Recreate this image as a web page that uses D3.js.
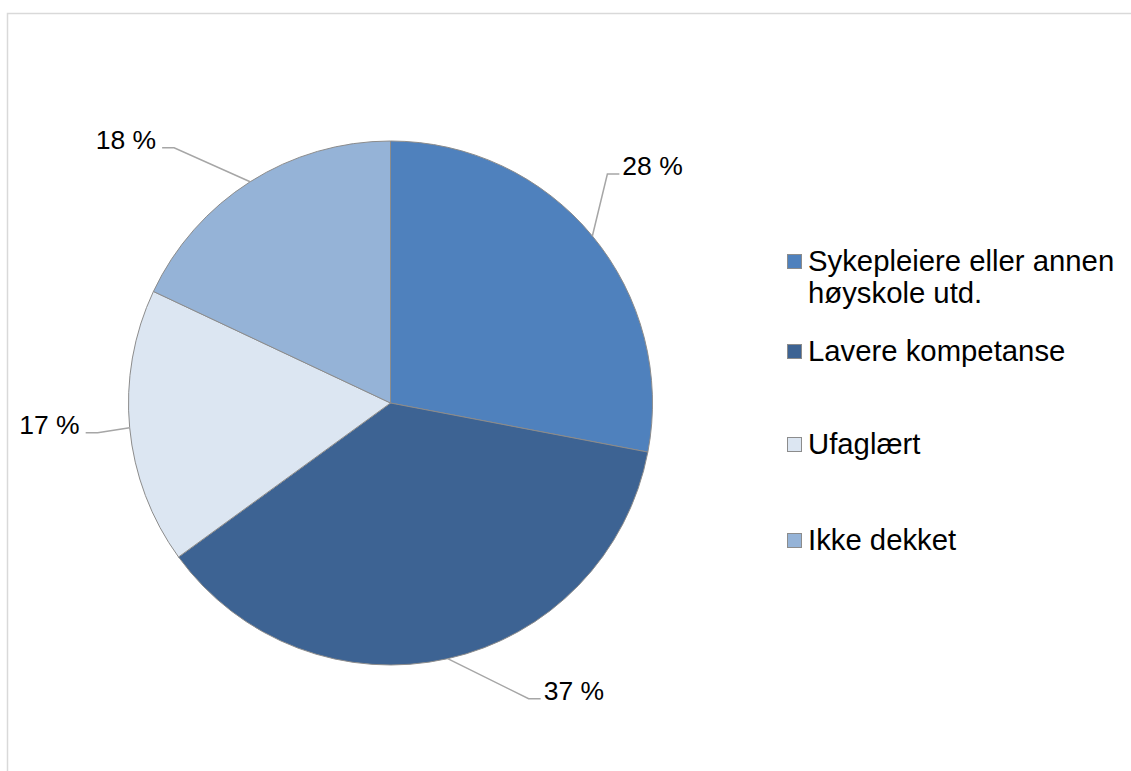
<!DOCTYPE html>
<html>
<head>
<meta charset="utf-8">
<script src="https://cdn.jsdelivr.net/npm/d3@7"></script>
<style>
  html, body { margin: 0; padding: 0; background: #fff; }
  svg { display: block; font-family: "Liberation Sans", Arial, sans-serif; }
</style>
</head>
<body>
<div id="chart"></div>
<script>
// Pie: share of shifts by staff competence.
const categories = [
  "Sykepleiere eller annen høyskole utd.",
  "Lavere kompetanse",
  "Ufaglært",
  "Ikke dekket",
];
const values = [28, 37, 17, 18];
const valueLabels = ["28 %", "37 %", "17 %", "18 %"];
const legendLines = [
  ["Sykepleiere eller annen", "høyskole utd."],
  ["Lavere kompetanse"],
  ["Ufaglært"],
  ["Ikke dekket"],
];
const colors = ["#4f81bd", "#3d6393", "#dce6f2", "#95b3d7"];

// label elbow offsets from the slice edge (layout only)
const leaderOffsets = [
  { dx: 15, dy: -62 },
  { dx: 81, dy: 40 },
  { dx: -32, dy: 5 },
  { dx: -76, dy: -34 },
];
const legendBaselines = [271, 361, 454, 550];

const W = 1131, H = 771;
const cx = 390.5, cy = 403, R = 262;

const svg = d3.select("#chart").append("svg")
  .attr("width", W).attr("height", H)
  .attr("viewBox", `0 0 ${W} ${H}`);

// chart-area border (runs off the right and bottom)
svg.append("rect")
  .attr("x", 7.5).attr("y", 13.5)
  .attr("width", 1200).attr("height", 800)
  .attr("fill", "none")
  .attr("stroke", "#d9d9d9")
  .attr("stroke-width", 1.5);

const rows = categories.map((c, i) => ({ name: c, value: values[i], label: valueLabels[i], i }));

const pie = d3.pie().sort(null).value((d) => d.value);
const arcs = pie(rows);
const arc = d3.arc().innerRadius(0).outerRadius(R);

const g = svg.append("g").attr("transform", `translate(${cx},${cy})`);

g.selectAll("path.slice")
  .data(arcs)
  .join("path")
  .attr("class", "slice")
  .attr("d", arc)
  .attr("fill", (d) => colors[d.data.i])
  .attr("stroke", "#8c8c8c")
  .attr("stroke-width", 1);

// ─── data labels with leader lines ───────────────────────────────────
const edge = d3.arc().innerRadius(R).outerRadius(R);
const labels = g.selectAll("g.dlabel")
  .data(arcs)
  .join("g")
  .attr("class", "dlabel");

labels.each(function (d) {
  const [ex, ey] = edge.centroid(d);
  const off = leaderOffsets[d.data.i];
  const bx = ex + off.dx, by = ey + off.dy;
  const dir = off.dx >= 0 ? 1 : -1;
  const hx = bx + dir * 12;
  const sel = d3.select(this);
  sel.append("polyline")
    .attr("points", `${ex},${ey} ${bx},${by} ${hx},${by}`)
    .attr("fill", "none")
    .attr("stroke", "#a6a6a6")
    .attr("stroke-width", 1.5);
  sel.append("text")
    .attr("x", hx + (dir > 0 ? 3 : -6))
    .attr("y", by + 1)
    .attr("text-anchor", dir > 0 ? "start" : "end")
    .attr("font-size", 26.5)
    .attr("fill", "#000")
    .text(d.data.label);
});

// ─── legend ─────────────────────────────────────────────────────────
const legend = svg.append("g").attr("class", "legend");
const items = legend.selectAll("g.item")
  .data(rows)
  .join("g")
  .attr("class", "item")
  .attr("transform", (d) => `translate(787,${legendBaselines[d.i]})`);

items.append("rect")
  .attr("x", 0.5).attr("y", -16.5)
  .attr("width", 14).attr("height", 14)
  .attr("fill", (d) => colors[d.i])
  .attr("stroke", "#8c8c8c")
  .attr("stroke-width", 1);

items.append("text")
  .attr("x", 21)
  .attr("font-size", 29.3)
  .attr("fill", "#000")
  .selectAll("tspan")
  .data((d) => legendLines[d.i])
  .join("tspan")
  .attr("x", 21)
  .attr("dy", (t, j) => (j === 0 ? 0 : 32))
  .text((t) => t);
</script>
</body>
</html>
